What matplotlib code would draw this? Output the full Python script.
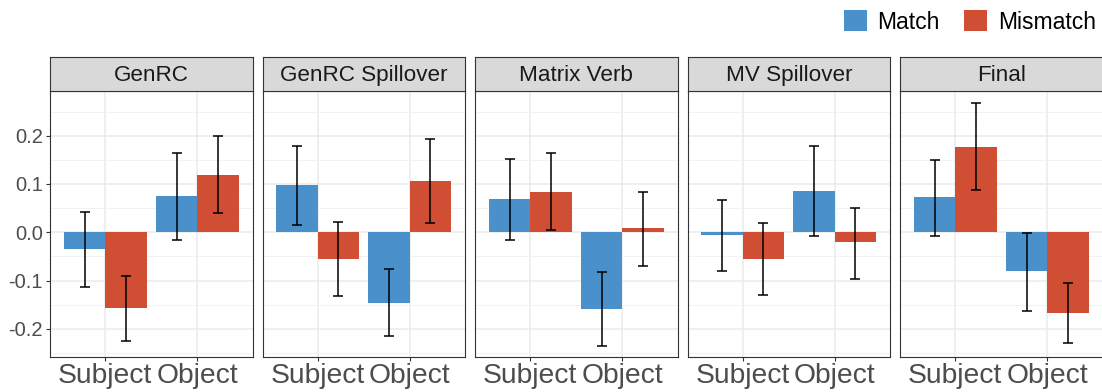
import matplotlib
matplotlib.use("Agg")
import matplotlib.pyplot as plt
import numpy as np

plt.rcParams["font.family"] = ["Liberation Sans", "DejaVu Sans"]

panels = ["GenRC", "GenRC Spillover", "Matrix Verb", "MV Spillover", "Final"]
categories = ["Subject", "Object"]

# per panel: (Subject, Object)
match_mean = [(-0.035, 0.075), (0.097, -0.146), (0.068, -0.159), (-0.006, 0.086), (0.072, -0.081)]
match_low = [(-0.113, -0.016), (0.014, -0.214), (-0.016, -0.236), (-0.081, -0.008), (-0.008, -0.163)]
match_high = [(0.041, 0.164), (0.179, -0.077), (0.151, -0.083), (0.067, 0.179), (0.150, -0.001)]

mismatch_mean = [(-0.157, 0.119), (-0.055, 0.106), (0.084, 0.008), (-0.055, -0.021), (0.177, -0.168)]
mismatch_low = [(-0.225, 0.039), (-0.133, 0.019), (0.005, -0.070), (-0.130, -0.097), (0.088, -0.230)]
mismatch_high = [(-0.090, 0.200), (0.021, 0.193), (0.164, 0.084), (0.019, 0.051), (0.267, -0.105)]

BLUE = "#4A90CB"
RED = "#CF4E34"

W, H = 1102, 392
fig = plt.figure(figsize=(W / 100, H / 100), dpi=100)

left0, step, pw = 50, 212.5, 202.5
top, bottom, strip_h = 91, 357.3, 34

x = np.arange(1, 3)
bw = 0.45
series = [
    ("Match", match_mean, match_low, match_high, BLUE, -bw / 2),
    ("Mismatch", mismatch_mean, mismatch_low, mismatch_high, RED, bw / 2),
]

handles = []
for i, name in enumerate(panels):
    l = left0 + i * step
    ax = fig.add_axes([l / W, (H - bottom) / H, pw / W, (bottom - top) / H])
    ax.set_xlim(0.4, 2.6)
    ax.set_ylim(-0.259, 0.2925)
    ax.set_axisbelow(True)

    ax.set_yticks([-0.2, -0.1, 0.0, 0.1, 0.2])
    ax.set_yticks([-0.25, -0.15, -0.05, 0.05, 0.15, 0.25], minor=True)
    ax.set_xticks(x)
    ax.set_xticklabels(categories)
    ax.grid(which="major", color="#EBEBEB", linewidth=1.1)
    ax.grid(which="minor", axis="y", color="#F2F2F2", linewidth=0.7)
    ax.tick_params(which="minor", length=0)
    ax.tick_params(axis="x", labelsize=20.3, colors="#333333", length=3, width=0.8,
                   pad=1, labelcolor="#4D4D4D")
    ax.tick_params(axis="y", labelsize=14.5, colors="#333333", length=3, width=0.8,
                   pad=2, labelcolor="#4D4D4D")
    if i > 0:
        ax.tick_params(axis="y", length=0, labelleft=False)
    else:
        ax.set_yticklabels(["-0.2", "-0.1", "0.0", "0.1", "0.2"])
    for sp in ax.spines.values():
        sp.set_color("#333333")
        sp.set_linewidth(0.8)

    for label, mean, low, high, color, off in series:
        m = np.array(mean[i])
        lo = np.array(low[i])
        hi = np.array(high[i])
        b = ax.bar(x + off, m, width=bw, color=color, label=label, zorder=2)
        ax.errorbar(x + off, (lo + hi) / 2, yerr=(hi - lo) / 2, fmt="none",
                    ecolor="black", elinewidth=1.1, capsize=3.3, capthick=1.1, zorder=3)
        if i == 0:
            handles.append(b)

    # strip
    sax = fig.add_axes([l / W, (H - top) / H, pw / W, strip_h / H])
    sax.set_xticks([])
    sax.set_yticks([])
    sax.set_facecolor("#D9D9D9")
    for sp in sax.spines.values():
        sp.set_color("#333333")
        sp.set_linewidth(0.8)
    sax.text(0.5, 0.47, name, ha="center", va="center", fontsize=16.2,
             color="#1A1A1A", transform=sax.transAxes)

fig.legend(handles=handles, labels=["Match", "Mismatch"], loc="upper right",
           bbox_to_anchor=(1.013, 1.026), ncol=2, frameon=False, fontsize=16.5,
           handlelength=1.0, handleheight=1.0, handletextpad=0.45, columnspacing=1.1)

fig.savefig("out.png", dpi=100)
